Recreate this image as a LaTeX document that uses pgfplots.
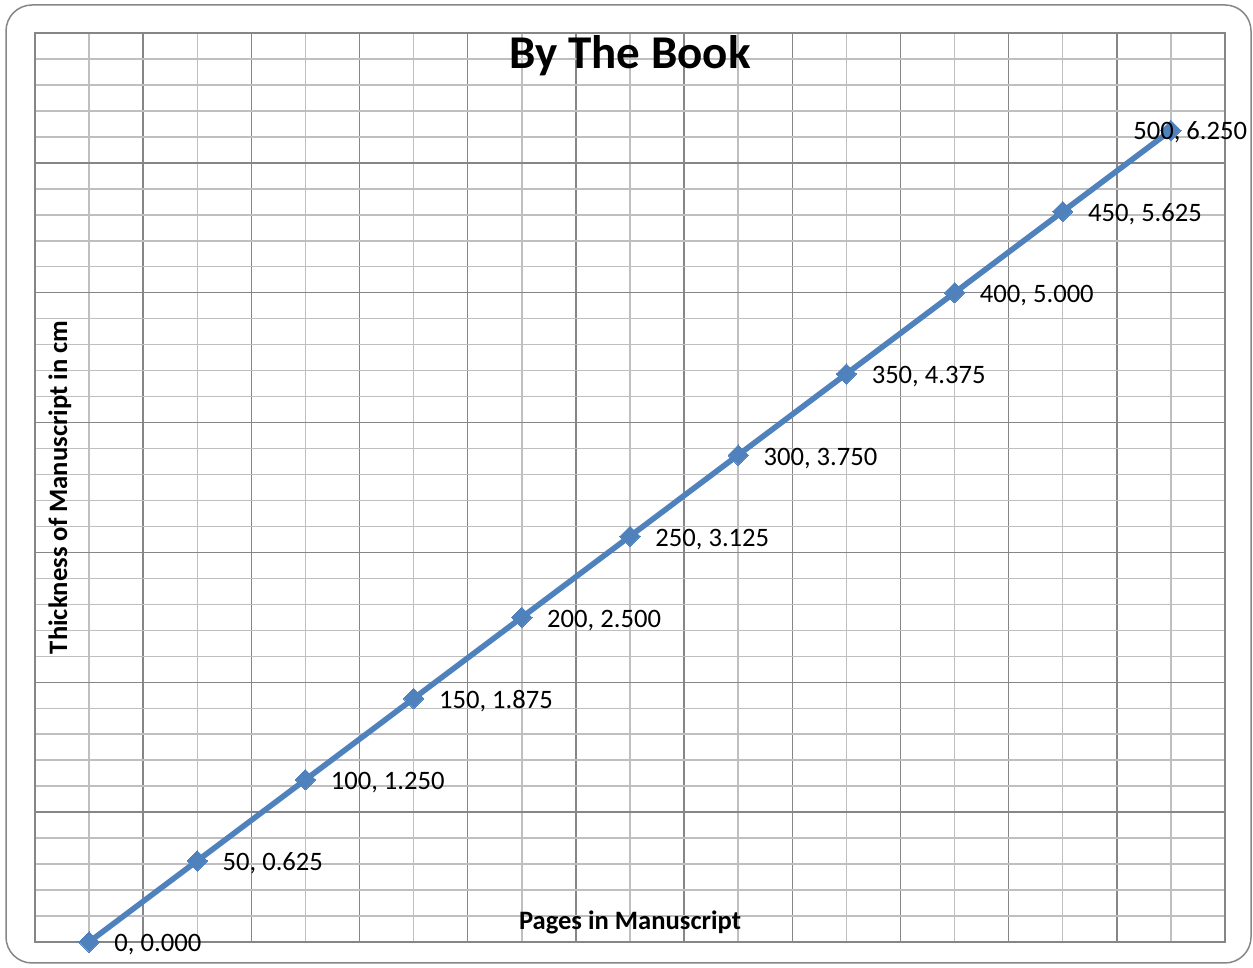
\documentclass[border=0pt]{standalone}
\usepackage{fontspec}
\setmainfont{Carlito}
\usepackage{pgfplots}
\pgfplotsset{compat=1.18}
\definecolor{serieblue}{RGB}{79,129,189}
\definecolor{majgrid}{RGB}{134,134,134}
\definecolor{mingrid}{RGB}{191,191,191}
\begin{document}
\begin{tikzpicture}
\useasboundingbox (-17.5pt,-13pt) rectangle (609pt,471pt);
\draw[majgrid, line width=0.75pt, rounded corners=13pt] (-14.5pt,-10.5pt) rectangle (608pt,468.5pt);
\begin{axis}[
  at={(0pt,0pt)}, anchor=south west,
  scale only axis, width=595pt, height=454.5pt,
  xmin=-25, xmax=525, ymin=0, ymax=7,
  xtick={-25,25,...,525}, minor xtick={0,50,...,500},
  ytick={0,1,...,7}, minor y tick num=4,
  xticklabels={}, yticklabels={},
  major tick length=0pt, minor tick length=0pt,
  grid=both,
  major grid style={majgrid, line width=0.75pt},
  minor grid style={mingrid, line width=0.75pt},
  axis line style={majgrid, line width=0.75pt},
  title={By The Book},
  title style={font=\fontsize{23.5}{28}\selectfont\bfseries, at={(axis description cs:0.5,1)}, anchor=north, inner sep=0pt, yshift=-7pt},
  xlabel={Pages in Manuscript},
  xlabel style={font=\fontsize{13.3}{16}\selectfont\bfseries, at={(axis description cs:0.5,0.0132)}, anchor=base, inner sep=0pt},
  ylabel={Thickness of Manuscript in cm},
  ylabel style={font=\fontsize{13.3}{16}\selectfont\bfseries, at={(axis description cs:0.0269,0.5)}, anchor=base, inner sep=0pt},
  /pgf/number format/assume math mode=true,
  clip=false,
]
\addplot[serieblue, line width=2.8pt, mark=square*, mark size=3.6pt,
  mark options={rotate=45, solid, line width=0pt, fill=serieblue}]
  coordinates {(0,0) (50,0.625) (100,1.25) (150,1.875) (200,2.5) (250,3.125)
               (300,3.75) (350,4.375) (400,5) (450,5.625) (500,6.25)};
\addplot[draw=none, mark=none, point meta=y,
  visualization depends on={rawx \as \px},
  nodes near coords={\pgfmathprintnumber[fixed,precision=0]{\px}, \pgfmathprintnumber[fixed,fixed zerofill,precision=3]{\pgfplotspointmeta}},
  every node near coord/.append style={anchor=base west, inner sep=0pt, xshift=12.5pt, yshift=-5pt, font=\fontsize{13.3}{16}\selectfont, text=black}]
  coordinates {(0,0) (50,0.625) (100,1.25) (150,1.875) (200,2.5) (250,3.125)
               (300,3.75) (350,4.375) (400,5) (450,5.625)};
\addplot[draw=none, mark=none, point meta=y,
  visualization depends on={rawx \as \px},
  nodes near coords={\pgfmathprintnumber[fixed,precision=0]{\px}, \pgfmathprintnumber[fixed,fixed zerofill,precision=3]{\pgfplotspointmeta}},
  every node near coord/.append style={anchor=base west, inner sep=0pt, xshift=-19pt, yshift=-4.5pt, font=\fontsize{13.3}{16}\selectfont, text=black}]
  coordinates {(500,6.25)};
\end{axis}
\end{tikzpicture}
\end{document}
